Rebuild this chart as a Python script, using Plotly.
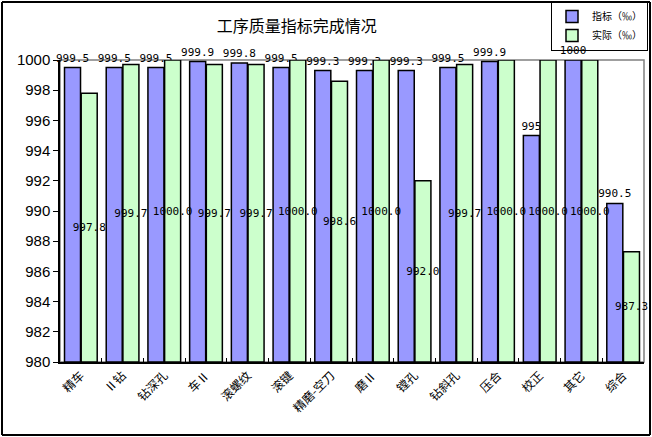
import plotly.graph_objects as go

# 工序质量指标完成情况
categories = ["精车", "Ⅱ钻", "钻深孔", "车Ⅱ", "滚螺纹", "滚键", "精磨-空刀",
              "磨Ⅱ", "镗孔", "钻斜孔", "压合", "校正", "其它", "综合"]
target = [999.5, 999.5, 999.5, 999.9, 999.8, 999.5, 999.3,
          999.3, 999.3, 999.5, 999.9, 995, 1000, 990.5]
actual = [997.8, 999.7, 1000.0, 999.7, 999.7, 1000.0, 998.6,
          1000.0, 992.0, 999.7, 1000.0, 1000.0, 1000.0, 987.3]
y_ticks = list(range(980, 1001, 2))

base = 980
cjk = "Noto Sans CJK SC"
mono = "DejaVu Sans Mono, Liberation Mono"

fig = go.Figure()

fig.add_trace(go.Bar(
    name="指标（‰）",
    x=categories,
    y=[v - base for v in target],
    base=base,
    marker=dict(color="#9999FF", line=dict(color="black", width=1.5)),
    text=[("%g" % v) if v % 1 == 0 else ("%.1f" % v) for v in target],
    textposition="outside",
    textangle=0,
    constraintext="none",
    cliponaxis=False,
    textfont=dict(family=mono, size=11, color="black"),
))

fig.add_trace(go.Bar(
    name="实际（‰）",
    x=categories,
    y=[v - base for v in actual],
    base=base,
    marker=dict(color="#CCFFCC", line=dict(color="black", width=1.5)),
    text=["%.1f" % v for v in actual],
    textposition="inside",
    insidetextanchor="middle",
    textangle=0,
    constraintext="none",
    cliponaxis=False,
    textfont=dict(family=mono, size=11, color="black"),
))

W, H = 652, 437
L, R, T, B = 60, 8, 60, 75
pw, ph = W - L - R, H - T - B
inset = 2

# outer chart frame in paper coordinates
fx0, fx1 = -(L - inset) / pw, (W - inset - L) / pw
fy0, fy1 = -(B - inset) / ph, (H - inset - B) / ph
frame_line = dict(color="black", width=2)

fig.update_layout(
    width=W, height=H,
    margin=dict(l=L, r=R, t=T, b=B, autoexpand=False),
    paper_bgcolor="white",
    plot_bgcolor="white",
    barmode="group",
    bargap=0.2,
    bargroupgap=0.04,
    uniformtext=dict(minsize=11, mode="show"),
    title=dict(text="工序质量指标完成情况", x=0.455, xanchor="center",
               y=1 - 26 / H, yanchor="middle",
               font=dict(family=cjk, size=16, color="black")),
    font=dict(family=cjk, color="black"),
    # transparent box so the bar label under it stays readable
    legend=dict(xref="container", yref="container",
                x=648 / W, xanchor="right", y=1 - 1 / H, yanchor="top",
                bordercolor="black", borderwidth=1, bgcolor="rgba(0,0,0,0)",
                font=dict(family=cjk, size=10, color="black"),
                itemwidth=30, tracegroupgap=0),
    showlegend=True,
    xaxis=dict(
        automargin=False,
        showline=True, linecolor="black", linewidth=1.5,
        ticks="inside", tickson="boundaries", ticklen=4, tickcolor="black",
        tickangle=-45, tickfont=dict(family=cjk, size=12, color="black"),
        showgrid=False,
    ),
    yaxis=dict(
        automargin=False,
        range=[980, 1000], tickvals=y_ticks,
        showline=True, linecolor="black", linewidth=1.5,
        ticks="outside", ticklen=5, tickcolor="black",
        tickfont=dict(family="Liberation Sans, Arial", size=15, color="black"),
        showgrid=False, zeroline=False,
    ),
    shapes=[
        # plot area frame
        dict(type="rect", xref="paper", yref="paper", x0=0, x1=1, y0=0, y1=1,
             line=dict(color="#808080", width=1.5), layer="below"),
        # chart outer frame, one side at a time
        dict(type="line", xref="paper", yref="paper", x0=fx0, x1=fx1, y0=fy1, y1=fy1, line=frame_line),
        dict(type="line", xref="paper", yref="paper", x0=fx1, x1=fx1, y0=fy0, y1=fy1, line=frame_line),
        dict(type="line", xref="paper", yref="paper", x0=fx0, x1=fx1, y0=fy0, y1=fy0, line=frame_line),
        dict(type="line", xref="paper", yref="paper", x0=fx0, x1=fx0, y0=fy0, y1=fy1, line=frame_line),
    ],
)

# page body has a default 8px margin, drop it so the figure fills the window
fig.write_html("out.html", config={"displayModeBar": False},
               post_script="document.body.style.margin='0';")
